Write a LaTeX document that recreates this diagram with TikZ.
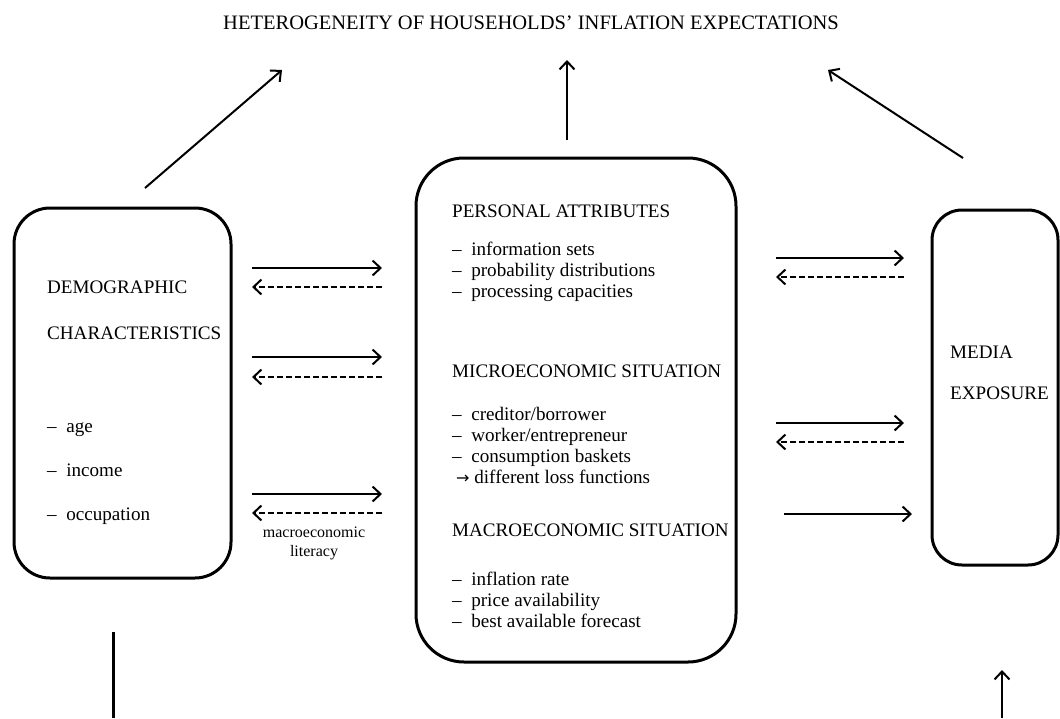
\documentclass[tikz,border=0pt]{standalone}
\usepackage{fontspec}
\setmainfont{Liberation Serif}
\newfontfamily\symfont{DejaVu Sans}
\usetikzlibrary{arrows.meta}
\begin{document}
\begin{tikzpicture}[x=1pt,y=-1pt,
  box/.style={draw,line width=3pt},
  arr/.style={line width=2pt,-{Straight Barb[length=8pt,width=15pt,line width=2pt]}},
  darr/.style={arr,dash pattern=on 6pt off 3pt},
  txt/.style={anchor=base west,inner sep=0pt,font=\fontsize{19.1}{22}\selectfont},
  ctxt/.style={anchor=base,inner sep=0pt,font=\fontsize{16}{19}\selectfont}]
\useasboundingbox (0,0) rectangle (1060,718);
% title
\node[anchor=base,inner sep=0pt,font=\fontsize{20.5}{24}\selectfont] (title) at (531,29) {HETEROGENEITY OF HOUSEHOLDS’ INFLATION EXPECTATIONS};
% boxes
\draw[box,rounded corners=36pt] (14,208) rectangle (231,578);
\draw[box,rounded corners=48pt] (416,158) rectangle (736,662);
\draw[box,rounded corners=30pt] (932,210) rectangle (1058,565);
% left box text
\node[txt] (dem) at (47,293) {DEMOGRAPHIC};
\node[txt] (cha) at (47,339) {CHARACTERISTICS};
\node[txt] (age) at (47,432) {–\ \ age};
\node[txt] (inc) at (47,476) {–\ \ income};
\node[txt] (occ) at (47,520) {–\ \ occupation};
% literacy label
\node[ctxt] (lit1) at (314,537) {macroeconomic};
\node[ctxt] (lit2) at (314,556) {literacy};
% middle text
\node[txt] (pa) at (452,217) {PERSONAL ATTRIBUTES};
\node[txt] (p1) at (452,255) {–\ \ information sets};
\node[txt] (p2) at (452,276) {–\ \ probability distributions};
\node[txt] (p3) at (452,297) {–\ \ processing capacities};
\node[txt] (mi) at (452,377) {MICROECONOMIC SITUATION};
\node[txt] (m1) at (452,420) {–\ \ creditor/borrower};
\node[txt] (m2) at (452,441) {–\ \ worker/entrepreneur};
\node[txt] (m3) at (452,462) {–\ \ consumption baskets};
\node[txt] (m4) at (456,483) {{\symfont\fontsize{16}{18}\selectfont →}\ different loss functions};
\node[txt] (ma) at (452,536) {MACROECONOMIC SITUATION};
\node[txt] (a1) at (452,585) {–\ \ inflation rate};
\node[txt] (a2) at (452,606) {–\ \ price availability};
\node[txt] (a3) at (452,627) {–\ \ best available forecast};
% right text
\node[txt] (me) at (950,358) {MEDIA};
\node[txt] (ex) at (950,399) {EXPOSURE};
% coordinates
\coordinate (d1) at (145,188); \coordinate (d2) at (282,70);
\coordinate (c1) at (567,140); \coordinate (c2) at (567,60);
\coordinate (r1) at (963,158); \coordinate (r2) at (828,70);
\coordinate (L1a) at (252,268); \coordinate (L1b) at (382,268);
\coordinate (L2a) at (252,287); \coordinate (L2b) at (382,287);
\coordinate (L3a) at (252,357); \coordinate (L3b) at (382,357);
\coordinate (L4a) at (252,377); \coordinate (L4b) at (382,377);
\coordinate (L5a) at (252,494); \coordinate (L5b) at (382,494);
\coordinate (L6a) at (252,513); \coordinate (L6b) at (382,513);
\coordinate (R1a) at (776,258); \coordinate (R1b) at (904,258);
\coordinate (R2a) at (776,277); \coordinate (R2b) at (904,277);
\coordinate (R3a) at (776,423); \coordinate (R3b) at (904,423);
\coordinate (R4a) at (776,442); \coordinate (R4b) at (904,442);
\coordinate (R5a) at (784,514); \coordinate (R5b) at (912,514);
\coordinate (b1) at (113,632); \coordinate (b2) at (113,718);
\coordinate (e1) at (1002,718); \coordinate (e2) at (1002,670);
% connectors
\draw[arr] (d1) -- (d2);
\draw[arr] (c1) -- (c2);
\draw[arr] (r1) -- (r2);
\draw[arr] (L1a) -- (L1b);
\draw[darr] (L2b) -- (L2a);
\draw[arr] (L3a) -- (L3b);
\draw[darr] (L4b) -- (L4a);
\draw[arr] (L5a) -- (L5b);
\draw[darr] (L6b) -- (L6a);
\draw[arr] (R1a) -- (R1b);
\draw[darr] (R2b) -- (R2a);
\draw[arr] (R3a) -- (R3b);
\draw[darr] (R4b) -- (R4a);
\draw[arr] (R5a) -- (R5b);
\draw[line width=3pt] (b1) -- (b2);
\draw[arr] (e1) -- (e2);
\end{tikzpicture}
\end{document}
